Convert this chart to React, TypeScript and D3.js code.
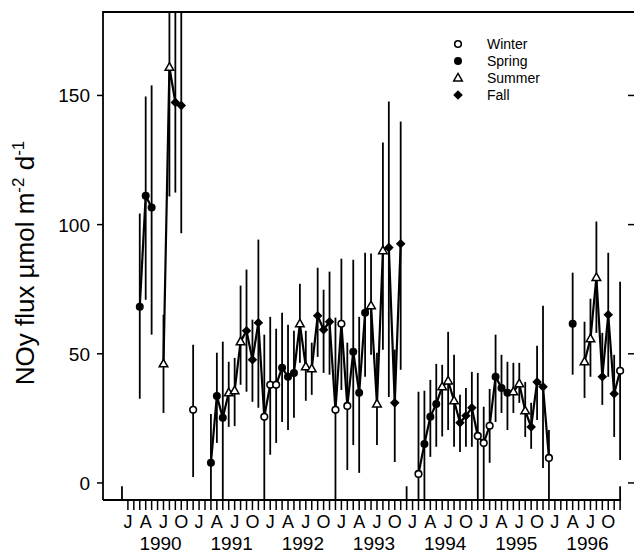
import React, { useEffect, useRef } from 'react'
import * as d3 from 'd3'

// monthly NOy flux
const months = [
  '1990-03', '1990-04', '1990-05', '1990-07', '1990-08', '1990-09', '1990-10', '1990-12',
  '1991-03', '1991-04', '1991-05', '1991-06', '1991-07', '1991-08', '1991-09', '1991-10', '1991-11', '1991-12',
  '1992-01', '1992-02', '1992-03', '1992-04', '1992-05', '1992-06', '1992-07', '1992-08', '1992-09', '1992-10', '1992-11', '1992-12',
  '1993-01', '1993-02', '1993-03', '1993-04', '1993-05', '1993-06', '1993-07', '1993-08', '1993-09', '1993-10', '1993-11',
  '1994-02', '1994-03', '1994-04', '1994-05', '1994-06', '1994-07', '1994-08', '1994-09', '1994-10', '1994-11', '1994-12',
  '1995-01', '1995-02', '1995-03', '1995-04', '1995-05', '1995-06', '1995-07', '1995-08', '1995-09', '1995-10', '1995-11', '1995-12',
  '1996-04', '1996-06', '1996-07', '1996-08', '1996-09', '1996-10', '1996-11', '1996-12',
]
const flux = [
  68.2, 111.2, 106.6, 46.1, 160.9, 147.3, 146.1, 28.3,
  7.8, 33.7, 25.2, 34.9, 35.7, 54.7, 58.9, 47.7, 62.0, 25.6,
  38.0, 38.0, 44.6, 41.1, 42.6, 61.6, 45.0, 44.2, 64.7, 59.3, 62.4, 28.3,
  61.6, 29.8, 50.8, 34.9, 65.9, 68.6, 30.6, 89.9, 91.1, 31.0, 92.6,
  3.5, 15.1, 25.6, 30.6, 37.2, 39.5, 31.8, 23.3, 26.0, 29.1, 18.2,
  15.5, 22.1, 41.1, 36.8, 34.9, 35.3, 38.4, 27.9, 21.7, 39.1, 37.2, 9.7,
  61.6, 46.9, 55.8, 79.5, 41.1, 65.1, 34.5, 43.4,
]
const fluxLow = [
  32.6, 70.9, 57.4, 27.1, 110.9, 112.4, 96.7, 2.3,
  -10, 15.5, -10, 21.7, 22, 38, 35.3, 31.4, 29.1, -10,
  10.9, 15.5, 23.6, 20.5, 25.2, 46.5, 31.8, 34.1, 48.8, 42.6, 41.9, -10,
  36.0, 5.0, 14.7, 3.9, 41.1, 49.6, 14.7, 51.6, 33.3, 8.1, 43.8,
  -10, -10, 10.1, 14.0, 18.0, 20.5, 14.0, 12.0, 14.0, 14.0, -10,
  -10, 7.8, 23.6, 27.1, 20.5, 27.1, 31.0, 17.8, 13.2, 24.4, 5.8, -10,
  41.9, 32.9, 41.1, 58.1, 30.2, 41.1, 17.8, 8.9,
]
const fluxHigh = [
  104.3, 149.6, 153.9, 65.1, 200, 200, 200, 53.5,
  26.7, 50.4, 54.7, 46.9, 48.4, 76.4, 82.6, 63.2, 94.2, 57.4,
  64.3, 59.7, 65.9, 61.2, 58.9, 77.1, 58.9, 54.3, 83.3, 74.8, 81.8, 64.0,
  86.8, 54.3, 86.4, 64.3, 89.1, 88.8, 50.4, 131.8, 147.7, 51.6, 139.9,
  35.3, 35.7, 39.9, 46.1, 45.7, 58.5, 49.6, 34.1, 36.8, 43.0, 42.6,
  29.5, 36.4, 57.4, 49.6, 46.9, 46.5, 46.5, 39.1, 31.0, 53.1, 68.6, 20.5,
  81.4, 62.4, 71.3, 101.2, 58.1, 89.1, 49.6, 77.9,
]
// bars of off-scale (negative) months, only their tops show above the axis
const offScaleMonths = ['1989-12', '1993-12', '1996-12']
const offScaleTop = [-1.3, -1.3, -1.3]

const seasons = ['Winter', 'Spring', 'Summer', 'Fall']
const monthLetters = ['J', 'A', 'J', 'O']
const years = [1990, 1991, 1992, 1993, 1994, 1995, 1996]
const yTicks = [0, 50, 100, 150]

const monthIndex = (s: string) => {
  const [y, m] = s.split('-').map(Number)
  return (y - 1990) * 12 + (m - 1)
}
const seasonOf = (s: string) => {
  const m = Number(s.split('-')[1])
  if (m === 12 || m <= 2) return 'Winter'
  if (m <= 5) return 'Spring'
  if (m <= 8) return 'Summer'
  return 'Fall'
}

const diamond = 'M0,-4.8L4.8,0L0,4.8L-4.8,0Z'
const triangle = 'M0,-4.6L4.3,3L-4.3,3Z'

const drawSymbol = (g: any, season: string) => {
  if (season === 'Winter')
    g.append('circle').attr('r', 3.3).attr('fill', '#fff').attr('stroke', '#000').attr('stroke-width', 1.6)
  else if (season === 'Spring') g.append('circle').attr('r', 4).attr('fill', '#000')
  else if (season === 'Summer')
    g.append('path').attr('d', triangle).attr('fill', '#fff').attr('stroke', '#000').attr('stroke-width', 1.5)
  else g.append('path').attr('d', diamond).attr('fill', '#000')
}

const App = () => {
  const svgRef = useRef<SVGSVGElement>(null)

  useEffect(() => {
    const svg = d3.select(svgRef.current)
    svg.selectAll('*').remove()

    const left = 103
    const right = 629
    const top = 12
    const bottom = 500

    const x = d3.scaleLinear().domain([-4.2, 84.5]).range([left, right])
    const y = d3.scaleLinear().domain([-6.6, 182.3]).range([bottom, top])

    const font = 'Liberation Sans, Arial, Helvetica, sans-serif'

    svg
      .append('defs')
      .append('clipPath')
      .attr('id', 'plotclip')
      .append('rect')
      .attr('x', left)
      .attr('y', top)
      .attr('width', right - left)
      .attr('height', bottom - top)

    const data = months.map((m, i) => ({
      i: monthIndex(m),
      v: flux[i],
      lo: fluxLow[i],
      hi: fluxHigh[i],
      season: seasonOf(m),
    }))

    const plot = svg.append('g').attr('clip-path', 'url(#plotclip)')

    // error bars
    plot
      .selectAll('line.err')
      .data(data)
      .enter()
      .append('line')
      .attr('x1', (d) => x(d.i))
      .attr('x2', (d) => x(d.i))
      .attr('y1', (d) => y(d.lo))
      .attr('y2', (d) => y(d.hi))
      .attr('stroke', '#000')
      .attr('stroke-width', 1.8)

    plot
      .selectAll('line.off')
      .data(offScaleMonths)
      .enter()
      .append('line')
      .attr('x1', (d) => x(monthIndex(d)))
      .attr('x2', (d) => x(monthIndex(d)))
      .attr('y1', (d, k) => y(offScaleTop[k]))
      .attr('y2', y(-20))
      .attr('stroke', '#000')
      .attr('stroke-width', 1.8)

    // connecting line, broken where a month is missing
    const full: any[] = d3.range(-1, 85).map((i) => data.find((d) => d.i === i) || null)
    const line = d3
      .line<any>()
      .defined((d) => d !== null)
      .x((d) => x(d.i))
      .y((d) => y(d.v))
    plot
      .append('path')
      .attr('d', line(full))
      .attr('fill', 'none')
      .attr('stroke', '#000')
      .attr('stroke-width', 2.2)
      .attr('stroke-linejoin', 'round')

    data.forEach((d) => {
      const g = plot.append('g').attr('transform', `translate(${x(d.i)},${y(d.v)})`)
      drawSymbol(g, d.season)
    })

    // frame
    svg
      .append('path')
      .attr('d', `M${left},${bottom}V${top}H634`)
      .attr('fill', 'none')
      .attr('stroke', '#000')
      .attr('stroke-width', 1.8)
    svg
      .append('line')
      .attr('x1', left)
      .attr('x2', x(83) + 1)
      .attr('y1', bottom)
      .attr('y2', bottom)
      .attr('stroke', '#000')
      .attr('stroke-width', 1.8)

    // y axis ticks
    yTicks.forEach((t) => {
      svg
        .append('line')
        .attr('x1', left - 6)
        .attr('x2', left)
        .attr('y1', y(t))
        .attr('y2', y(t))
        .attr('stroke', '#000')
        .attr('stroke-width', 1.5)
      svg
        .append('line')
        .attr('x1', right - 1)
        .attr('x2', right + 5)
        .attr('y1', y(t))
        .attr('y2', y(t))
        .attr('stroke', '#000')
        .attr('stroke-width', 1.5)
      svg
        .append('text')
        .attr('x', left - 13)
        .attr('y', y(t) + 7)
        .attr('text-anchor', 'end')
        .attr('font-family', font)
        .attr('font-size', 19)
        .text(t)
    })

    // month ticks and labels
    d3.range(0, 84).forEach((i) => {
      svg
        .append('line')
        .attr('x1', x(i))
        .attr('x2', x(i))
        .attr('y1', bottom)
        .attr('y2', bottom + 10)
        .attr('stroke', '#000')
        .attr('stroke-width', 1.5)
      if (i % 3 === 0) {
        svg
          .append('text')
          .attr('x', x(i))
          .attr('y', bottom + 28)
          .attr('text-anchor', 'middle')
          .attr('font-family', font)
          .attr('font-size', 18)
          .text(monthLetters[(i % 12) / 3])
      }
    })
    years.forEach((yr, k) => {
      svg
        .append('text')
        .attr('x', x(k * 12 + 5.5))
        .attr('y', bottom + 50)
        .attr('text-anchor', 'middle')
        .attr('font-family', font)
        .attr('font-size', 19)
        .text(yr)
    })

    // y title
    const title = svg
      .append('text')
      .attr('transform', `translate(34, 263) rotate(-90)`)
      .attr('text-anchor', 'middle')
      .attr('font-family', font)
      .attr('font-size', 26)
    title.append('tspan').text('NOy flux µmol m')
    title.append('tspan').attr('font-size', 17).attr('dy', -10).text('-2')
    title.append('tspan').attr('dy', 10).text(' d')
    title.append('tspan').attr('font-size', 17).attr('dy', -10).text('-1')

    // legend
    seasons.forEach((s, k) => {
      const ly = 44 + k * 17
      const g = svg.append('g').attr('transform', `translate(458,${ly})`)
      drawSymbol(g, s)
      svg
        .append('text')
        .attr('x', 487)
        .attr('y', ly + 5)
        .attr('font-family', font)
        .attr('font-size', 14)
        .text(s)
    })
  }, [])

  return (
    <svg
      ref={svgRef}
      width={634}
      height={555}
      style={{ position: 'absolute', left: 0, top: 0, background: '#fff' }}
    ></svg>
  )
}

export default App
